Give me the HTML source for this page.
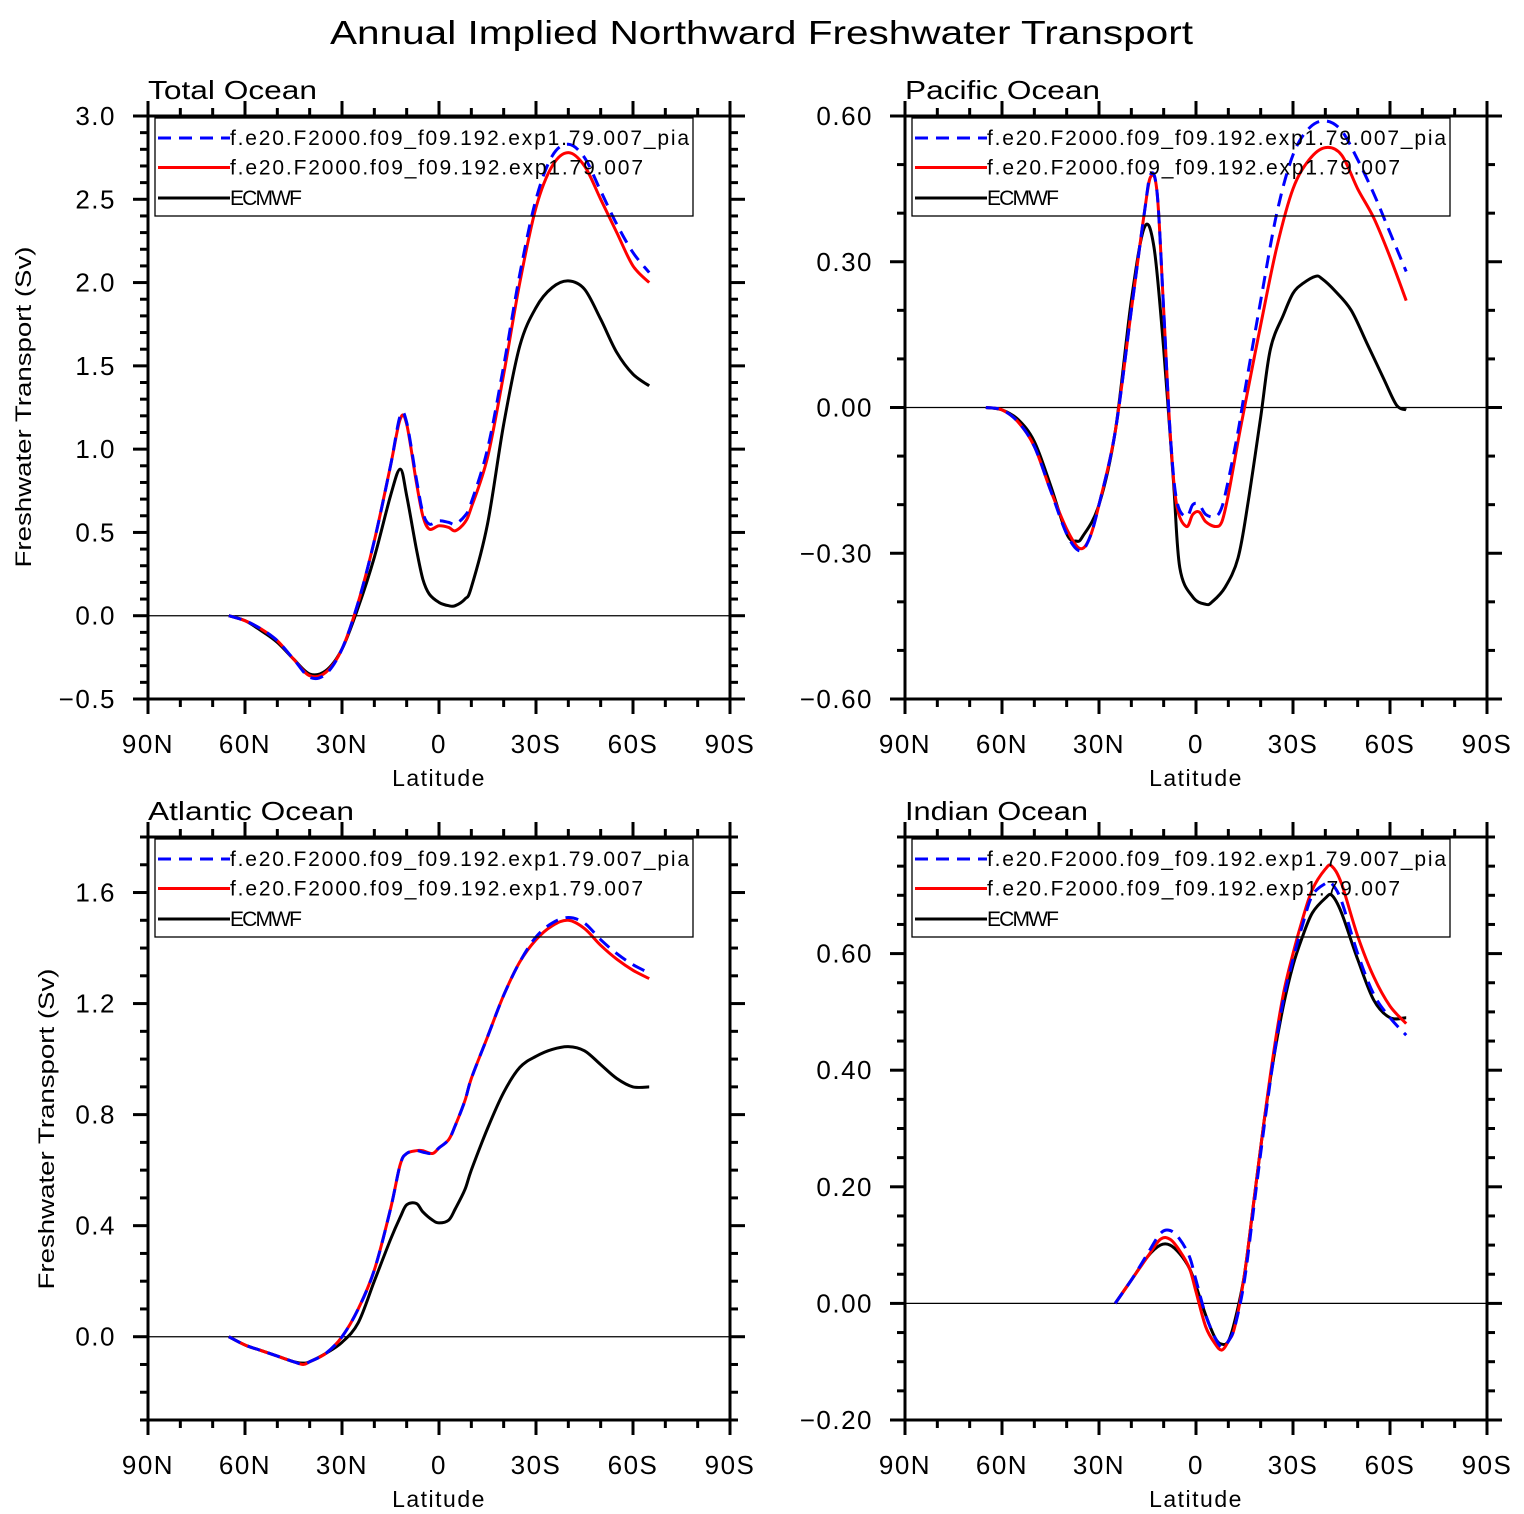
<!DOCTYPE html>
<html><head><meta charset="utf-8"><style>
body{margin:0;background:#fff;}
svg{display:block;font-family:"Liberation Sans",sans-serif;}
</style></head><body>
<svg id="c" width="1524" height="1514" viewBox="0 0 1524 1514" xmlns="http://www.w3.org/2000/svg">
<text x="330" y="44" textLength="863" lengthAdjust="spacingAndGlyphs" font-size="33">Annual Implied Northward Freshwater Transport</text>
</svg>
<script>
// ---- data ----
const legendLabels = ["f.e20.F2000.f09_f09.192.exp1.79.007_pia","f.e20.F2000.f09_f09.192.exp1.79.007","ECMWF"];
const panelTitles = ["Total Ocean","Pacific Ocean","Atlantic Ocean","Indian Ocean"];
const xTickLabels = ["90N","60N","30N","0","30S","60S","90S"];

// Total ocean
const totalLat = [65,60,55,50,45,40,35,30,25,20,15,12,10,7,5,3,0,-3,-5,-8,-10,-15,-20,-25,-30,-35,-40,-45,-50,-55,-60,-65];
const totalBlue = [0,-0.03,-0.08,-0.15,-0.26,-0.37,-0.35,-0.2,0.08,0.45,0.9,1.2,1.16,0.82,0.62,0.55,0.57,0.56,0.55,0.6,0.68,1.0,1.5,2.05,2.5,2.76,2.83,2.75,2.55,2.35,2.18,2.06];
const totalRed = [0,-0.03,-0.08,-0.15,-0.26,-0.36,-0.34,-0.2,0.08,0.45,0.9,1.18,1.15,0.8,0.6,0.52,0.54,0.53,0.51,0.56,0.65,0.95,1.45,2.0,2.45,2.7,2.78,2.7,2.5,2.3,2.1,2.0];
const totalBlackLat = [65,60,55,50,45,40,35,30,25,20,15,12,10,7,5,3,0,-3,-5,-8,-10,-15,-20,-25,-30,-35,-40,-45,-50,-55,-60,-65];
const totalBlack = [0,-0.03,-0.09,-0.16,-0.26,-0.35,-0.33,-0.2,0.05,0.35,0.72,0.88,0.72,0.4,0.22,0.13,0.08,0.06,0.06,0.1,0.17,0.55,1.15,1.62,1.85,1.97,2.01,1.96,1.78,1.58,1.45,1.38];
const totalTicks = [-0.5,0,0.5,1.0,1.5,2.0,2.5,3.0];
const totalTickLabels = ["−0.5","0.0","0.5","1.0","1.5","2.0","2.5","3.0"];

// Pacific
const pacLat = [65,60,55,50,45,40,36,33,30,25,20,16,14,12,10,8,6,3,1,-1,-3,-6,-8,-10,-13,-15,-20,-25,-30,-35,-40,-45,-50,-55,-60,-65];
const pacBlue = [0,-0.005,-0.03,-0.08,-0.17,-0.26,-0.295,-0.27,-0.2,-0.05,0.2,0.4,0.48,0.44,0.2,-0.05,-0.19,-0.225,-0.2,-0.2,-0.22,-0.225,-0.205,-0.15,-0.05,0.03,0.22,0.4,0.52,0.575,0.59,0.57,0.51,0.44,0.36,0.28];
const pacRed = [0,-0.005,-0.03,-0.08,-0.17,-0.25,-0.29,-0.27,-0.2,-0.05,0.2,0.4,0.475,0.44,0.2,-0.05,-0.2,-0.245,-0.22,-0.215,-0.235,-0.245,-0.235,-0.18,-0.07,0.0,0.17,0.33,0.45,0.51,0.535,0.52,0.45,0.39,0.31,0.22];
const pacBlackLat = [65,60,55,50,45,40,37,35,30,25,20,16,13,10,7,5,1,-3,-5,-9,-13,-16,-20,-23,-27,-30,-33,-37,-39,-43,-48,-53,-58,-62,-65];
const pacBlack = [0,-0.005,-0.025,-0.07,-0.16,-0.26,-0.275,-0.265,-0.2,-0.05,0.22,0.37,0.33,0.12,-0.15,-0.33,-0.39,-0.405,-0.4,-0.37,-0.31,-0.2,-0.02,0.12,0.19,0.235,0.255,0.27,0.265,0.24,0.2,0.13,0.06,0.005,-0.005];
const pacTicks = [-0.6,-0.3,0,0.3,0.6];
const pacTickLabels = ["−0.60","−0.30","0.00","0.30","0.60"];

// Atlantic
const atlLat = [65,60,55,50,45,42,40,35,30,25,20,15,12,10,7,5,2,0,-3,-5,-8,-10,-15,-20,-25,-30,-35,-40,-45,-50,-55,-60,-65];
const atlBlue = [0,-0.03,-0.05,-0.07,-0.09,-0.1,-0.09,-0.06,0.0,0.1,0.24,0.46,0.62,0.66,0.67,0.665,0.66,0.68,0.71,0.76,0.85,0.93,1.08,1.23,1.35,1.44,1.49,1.51,1.49,1.43,1.38,1.34,1.31];
const atlRed = [0,-0.03,-0.05,-0.07,-0.09,-0.1,-0.09,-0.06,0.0,0.1,0.24,0.46,0.62,0.66,0.67,0.67,0.66,0.68,0.71,0.76,0.85,0.93,1.08,1.23,1.35,1.43,1.48,1.5,1.47,1.41,1.36,1.32,1.29];
const atlBlack = [0,-0.03,-0.05,-0.07,-0.09,-0.095,-0.09,-0.06,-0.02,0.05,0.2,0.35,0.43,0.475,0.48,0.45,0.42,0.41,0.42,0.46,0.53,0.6,0.75,0.88,0.97,1.01,1.035,1.045,1.03,0.98,0.93,0.9,0.9];
const atlTicks = [0,0.4,0.8,1.2,1.6];
const atlTickLabels = ["0.0","0.4","0.8","1.2","1.6"];

// Indian
const indLat = [25,20,15,11,8,5,2,0,-3,-6,-8,-10,-12,-15,-18,-21,-24,-27,-30,-33,-36,-40,-42,-45,-50,-55,-60,-65];
const indBlue = [0,0.04,0.085,0.12,0.125,0.11,0.08,0.04,-0.02,-0.06,-0.075,-0.065,-0.04,0.04,0.17,0.3,0.42,0.52,0.59,0.65,0.7,0.72,0.72,0.69,0.6,0.53,0.49,0.46];
const indRed = [0,0.04,0.08,0.11,0.11,0.09,0.06,0.02,-0.04,-0.07,-0.08,-0.065,-0.04,0.05,0.18,0.31,0.43,0.53,0.6,0.66,0.71,0.745,0.75,0.72,0.63,0.56,0.51,0.48];
const indBlack = [0,0.04,0.08,0.1,0.1,0.085,0.06,0.03,-0.02,-0.06,-0.07,-0.065,-0.03,0.05,0.18,0.31,0.42,0.51,0.58,0.63,0.67,0.695,0.7,0.67,0.59,0.52,0.49,0.49];
const indTicks = [-0.2,0,0.2,0.4,0.6];
const indTickLabels = ["−0.20","0.00","0.20","0.40","0.60"];

const NS="http://www.w3.org/2000/svg";
const svg=document.getElementById('c');
function mk(tag,attrs,parent){const e=document.createElementNS(NS,tag);for(const k in attrs)e.setAttribute(k,attrs[k]);(parent||svg).appendChild(e);return e;}

function spline(pts){
  let d="M"+pts[0][0].toFixed(1)+","+pts[0][1].toFixed(1);
  for(let i=0;i<pts.length-1;i++){
    const p0=pts[Math.max(0,i-1)],p1=pts[i],p2=pts[i+1],p3=pts[Math.min(pts.length-1,i+2)];
    const c1=[p1[0]+(p2[0]-p0[0])/6,p1[1]+(p2[1]-p0[1])/6];
    const c2=[p2[0]-(p3[0]-p1[0])/6,p2[1]-(p3[1]-p1[1])/6];
    d+=" C"+c1[0].toFixed(1)+","+c1[1].toFixed(1)+" "+c2[0].toFixed(1)+","+c2[1].toFixed(1)+" "+p2[0].toFixed(1)+","+p2[1].toFixed(1);
  }
  return d;
}

function panel(o){
  const g=mk('g',{});
  
  
  const L=o.x0,R=o.x0+582,T=o.y0,B=o.y0+583;
  const xs=lat=>L+(90-lat)*582/180;
  const ys=v=>B-(v-o.ymin)/(o.ymax-o.ymin)*583;
  const z=mk('line',{x1:L,x2:R,y1:ys(0),y2:ys(0),stroke:'#000','stroke-width':1.2},g);
  
  
  const ser=[[o.blackLat||o.lat,o.black,'#000','','ecmwf-line'],[o.lat,o.red,'#f00','','model-line'],[o.lat,o.blue,'#00f','13 8','model-pia-line']];
  ser.forEach(s=>{
    const pts=s[0].map((la,i)=>[xs(la),ys(s[1][i])]);
    const p=mk('path',{d:spline(pts),fill:'none',stroke:s[2],'stroke-width':3,'stroke-dasharray':s[3],'stroke-linejoin':'round'},g);
    
    
  });
  const f=mk('rect',{x:L,y:T,width:582,height:583,fill:'none',stroke:'#000','stroke-width':3},g);
  
  
  for(let lat=90;lat>=-90;lat-=10){
    const x=xs(lat),len=(lat%30===0)?15:8;
    mk('line',{x1:x,x2:x,y1:B,y2:B+len,stroke:'#000','stroke-width':3},g);
    mk('line',{x1:x,x2:x,y1:T,y2:T-len,stroke:'#000','stroke-width':3},g);
  }
  xTickLabels.forEach((t,i)=>{
    const e=mk('text',{x:L+i*97,y:B+54,'text-anchor':'middle','font-size':26,'letter-spacing':1.5},g);
    e.textContent=t;
    
    
  });
  const xl=mk('text',{x:L+291,y:B+87,'text-anchor':'middle','font-size':23,'letter-spacing':1.5},g);
  xl.textContent="Latitude";
  
  
  const nMinor=Math.round((o.ymax-o.ymin)/o.minor);
  for(let i=0;i<=nMinor;i++){
    const v=o.ymin+i*o.minor,y=ys(v);
    const major=o.ticks.some(t=>Math.abs(t-v)<1e-6);
    const len=major?15:8;
    mk('line',{x1:L,x2:L-len,y1:y,y2:y,stroke:'#000','stroke-width':3},g);
    mk('line',{x1:R,x2:R+len,y1:y,y2:y,stroke:'#000','stroke-width':3},g);
  }
  o.ticks.forEach((t,i)=>{
    const e=mk('text',{x:L-32,y:ys(t)+9,'text-anchor':'end','font-size':26,'letter-spacing':1.5},g);
    e.textContent=o.tickLabels[i];
    
    
  });
  const tt=mk('text',{x:L,y:T-17,'font-size':26,textLength:o.titleLen,lengthAdjust:'spacingAndGlyphs'},g);
  tt.textContent=o.title;
  
  
  if(o.ylabel){
    const yl=mk('text',{x:o.ylx,y:o.yly,'text-anchor':'middle','font-size':22,transform:'rotate(-90 '+o.ylx+' '+o.yly+')',textLength:321,lengthAdjust:'spacingAndGlyphs'},g);
    yl.textContent="Freshwater Transport (Sv)";
    
    
  }
  const lg=mk('g',{},g);
  
  
  mk('rect',{x:L+7,y:T+2,width:538,height:98,fill:'none',stroke:'#000','stroke-width':1.3},lg);
  const lc=[['#00f','13 8'],['#f00',''],['#000','']];
  legendLabels.forEach((t,i)=>{
    const y=T+22+i*29.5+(i==2?1:0);
    mk('line',{x1:L+10,x2:L+82,y1:y,y2:y,stroke:lc[i][0],'stroke-width':3,'stroke-dasharray':lc[i][1]},lg);
    const e=mk('text',{x:L+82,y:y+7,'font-size':21},lg);
    e.textContent=t;
    if(i==0)e.setAttribute('textLength',459);
    if(i==1)e.setAttribute('textLength',413);
    if(i==2)e.setAttribute('textLength',72);
    
    
  });
}

panel({name:'total-ocean-panel',x0:148,y0:116,ymin:-0.5,ymax:3.0,minor:0.1,ticks:totalTicks,tickLabels:totalTickLabels,title:panelTitles[0],titleLen:169,lat:totalLat,blue:totalBlue,red:totalRed,blackLat:totalBlackLat,black:totalBlack,ylabel:true,ylx:31,yly:407});
panel({name:'pacific-ocean-panel',x0:905,y0:116,ymin:-0.6,ymax:0.6,minor:0.1,ticks:pacTicks,tickLabels:pacTickLabels,title:panelTitles[1],titleLen:195,lat:pacLat,blue:pacBlue,red:pacRed,blackLat:pacBlackLat,black:pacBlack});
panel({name:'atlantic-ocean-panel',x0:148,y0:837,ymin:-0.3,ymax:1.8,minor:0.1,ticks:atlTicks,tickLabels:atlTickLabels,title:panelTitles[2],titleLen:206,lat:atlLat,blue:atlBlue,red:atlRed,black:atlBlack,ylabel:true,ylx:54,yly:1129});
panel({name:'indian-ocean-panel',x0:905,y0:837,ymin:-0.2,ymax:0.8,minor:0.05,ticks:indTicks,tickLabels:indTickLabels,title:panelTitles[3],titleLen:183,lat:indLat,blue:indBlue,red:indRed,black:indBlack});
</script>
</body></html>
